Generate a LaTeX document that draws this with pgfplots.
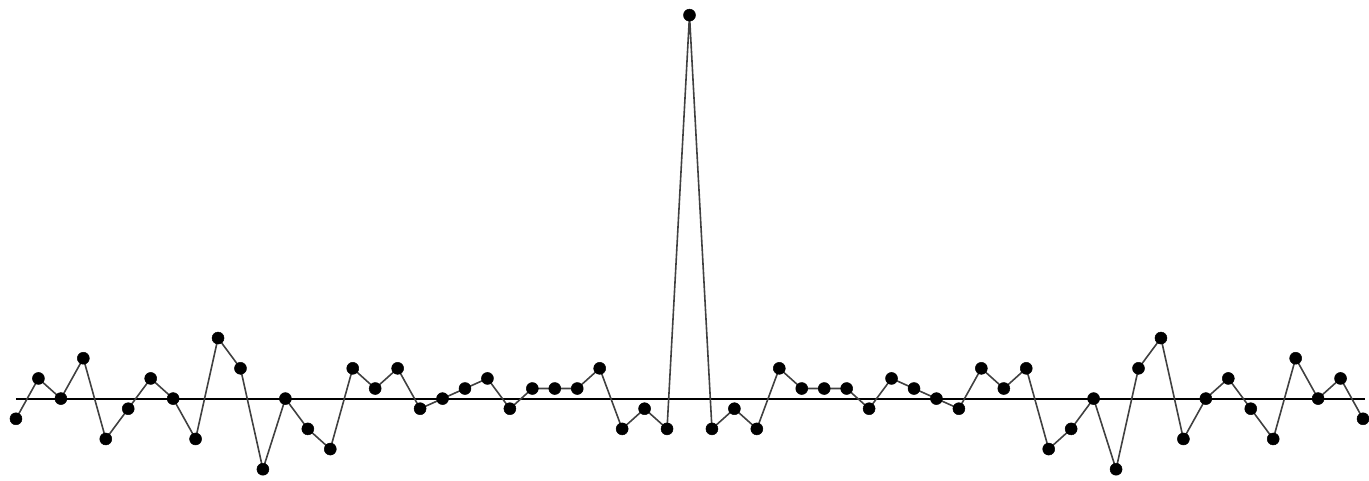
\documentclass[border=0pt]{standalone}
\usepackage{pgfplots}
\pgfplotsset{compat=1.18}
\usepackage{pgfplotstable}
\pgfplotstableread{
x y
0 -2
1 2
2 0
3 4
4 -4
5 -1
6 2
7 0
8 -4
9 6
10 3
11 -7
12 0
13 -3
14 -5
15 3
16 1
17 3
18 -1
19 0
20 1
21 2
22 -1
23 1
24 1
25 1
26 3
27 -3
28 -1
29 -3
30 38
31 -3
32 -1
33 -3
34 3
35 1
36 1
37 1
38 -1
39 2
40 1
41 0
42 -1
43 3
44 1
45 3
46 -5
47 -3
48 0
49 -7
50 3
51 6
52 -4
53 0
54 2
55 -1
56 -4
57 4
58 0
59 2
60 -2
}\datatable
\pgfplotstableread{
x y
0 0
60.1 0
}\baseline
\begin{document}
\begin{tikzpicture}
\begin{axis}[
  width=1369pt, height=481pt, scale only axis,
  hide axis,
  xmin=-0.712, xmax=60.21,
  ymin=-8.12, ymax=39.5,
  clip=false,
]
\path (rel axis cs:0,0) rectangle (rel axis cs:1,1);
\addplot[black, line width=2pt, no marks] table {\baseline};
\addplot[gray!50!black, line width=1.6pt, mark=*, mark size=6pt,
  mark options={fill=black, draw=black, line width=0.5pt}] table {\datatable};
\end{axis}
\end{tikzpicture}
\end{document}
